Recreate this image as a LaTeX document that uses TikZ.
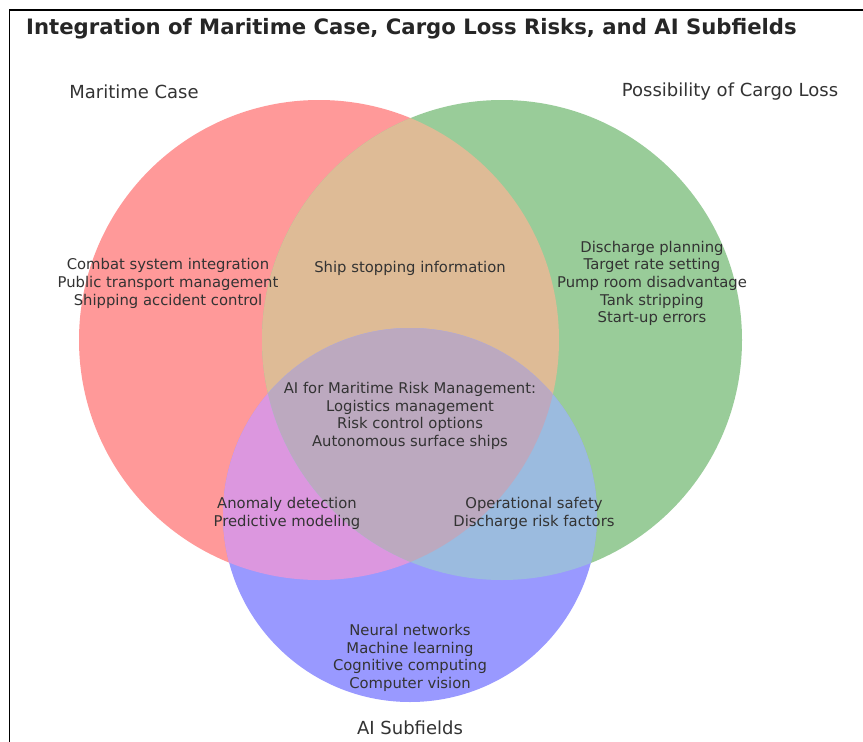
\documentclass[tikz,border=0pt]{standalone}
\usepackage{fontspec}
\setmainfont{DejaVu Sans}
\usepackage{tikz}

\definecolor{setM}{HTML}{FF9999}
\definecolor{setC}{HTML}{99CC99}
\definecolor{setA}{HTML}{9999FF}
\definecolor{setMC}{HTML}{DEBB96}
\definecolor{setMA}{HTML}{DC97DF}
\definecolor{setCA}{HTML}{9BBBDF}
\definecolor{setMCA}{HTML}{BCA9BF}
\definecolor{txt}{HTML}{333333}

\def\circM{(319,340) circle[radius=240pt]}
\def\circC{(502,340) circle[radius=240pt]}
\def\circA{(410,515) circle[radius=187pt]}

\tikzset{
  lbl/.style={text=txt,align=center,inner sep=0pt,font=\fontsize{14.8}{17.6}\selectfont},
  setname/.style={text=txt,inner sep=0pt,font=\fontsize{18}{21}\selectfont}
}

\begin{document}
\begin{tikzpicture}[x=1pt,y=-1pt]
\useasboundingbox (0,0) rectangle (863,742);
\fill[white] (0,0) rectangle (863,742);
\draw[line width=1.2pt] (9.5,742) -- (9.5,10) -- (863,10); % frame

% circles
\fill[setM] \circM;
\fill[setC] \circC;
\fill[setA] \circA;
% overlaps
\begin{scope}
  \clip \circM;
  \fill[setMC] \circC;
  \fill[setMA] \circA;
\end{scope}
\begin{scope}
  \clip \circC;
  \fill[setCA] \circA;
\end{scope}
\begin{scope}
  \clip \circM; \clip \circC;
  \fill[setMCA] \circA;
\end{scope}

% title
\node[anchor=base west,inner sep=0pt,text=black!85,font=\fontsize{21.2}{25}\bfseries\selectfont] (title) at (26,34.5)
  {Integration of Maritime Case, Cargo Loss Risks, and AI Subfields};

% set names
\node[setname] (nameM) at (134,92) {Maritime Case};
\node[setname] (nameC) at (730,92) {Possibility of Cargo Loss};
\node[setname] (nameA) at (410,728) {AI Subfields};

% region texts
\node[lbl] (onlyM) at (168,283.5) {Combat system integration\\Public transport management\\Shipping accident control};
\node[lbl] (MC) at (410,268) {Ship stopping information};
\node[lbl] (onlyC) at (652,283.5) {Discharge planning\\Target rate setting\\Pump room disadvantage\\Tank stripping\\Start-up errors};
\node[lbl] (MCA) at (410,416) {AI for Maritime Risk Management:\\Logistics management\\Risk control options\\Autonomous surface ships};
\node[lbl] (MA) at (287,513.5) {Anomaly detection\\Predictive modeling};
\node[lbl] (CA) at (534,513.5) {Operational safety\\Discharge risk factors};
\node[lbl] (onlyA) at (410,658) {Neural networks\\Machine learning\\Cognitive computing\\Computer vision};
\end{tikzpicture}
\end{document}
